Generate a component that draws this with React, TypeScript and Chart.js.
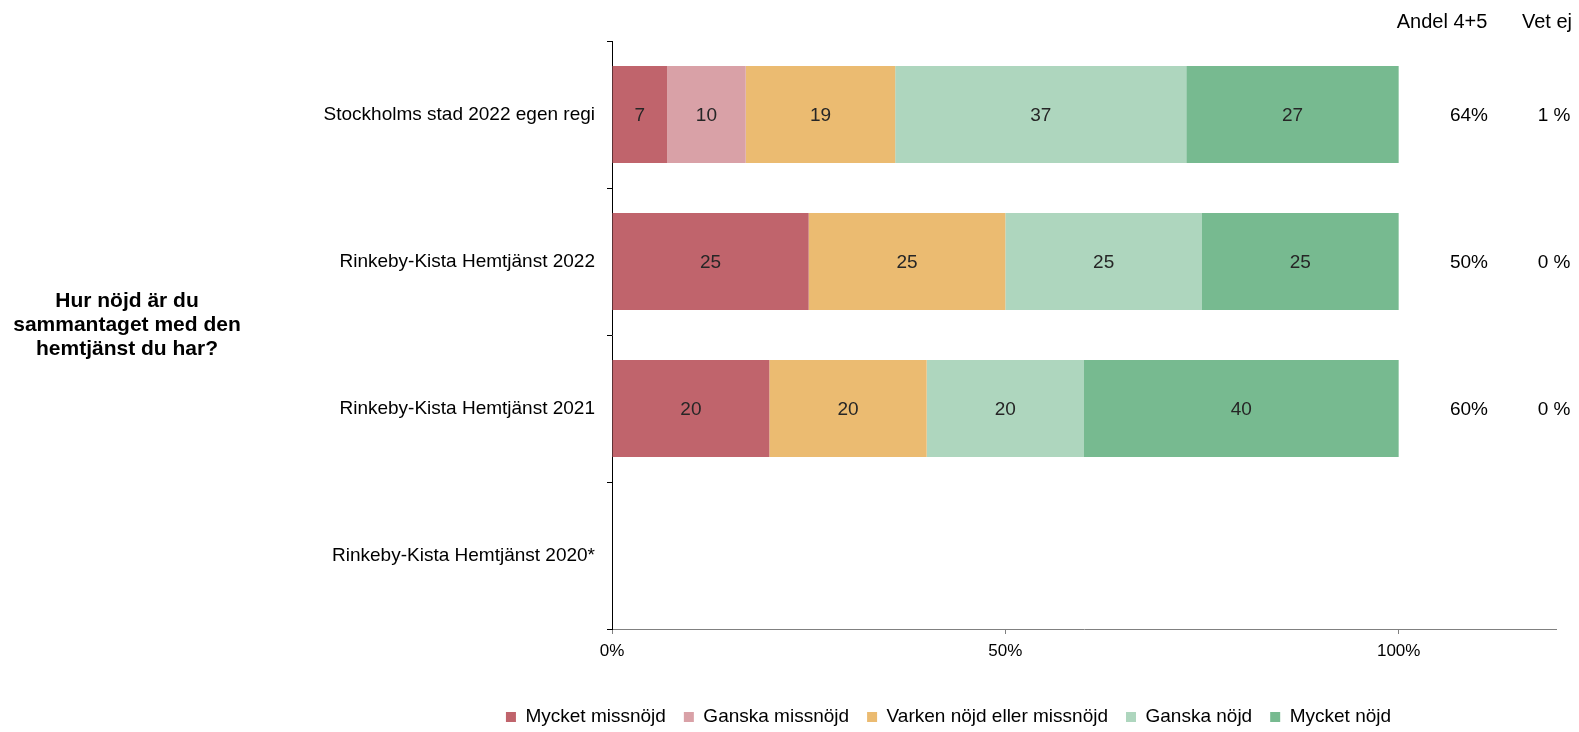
import React, { useEffect, useRef } from "react";
import { Chart, registerables } from "chart.js";

Chart.register(...registerables);

const categories = [
  "Stockholms stad 2022 egen regi",
  "Rinkeby-Kista Hemtjänst 2022",
  "Rinkeby-Kista Hemtjänst 2021",
  "Rinkeby-Kista Hemtjänst 2020*",
];
const seriesNames = [
  "Mycket missnöjd",
  "Ganska missnöjd",
  "Varken nöjd eller missnöjd",
  "Ganska nöjd",
  "Mycket nöjd",
];
const mycketMissnojd = [7, 25, 20, null];
const ganskaMissnojd = [10, 0, 0, null];
const varkenNojd = [19, 25, 20, null];
const ganskaNojd = [37, 25, 20, null];
const mycketNojd = [27, 25, 40, null];
const seriesColors = ["#C0646C", "#D9A1A7", "#EBBB71", "#AED6BE", "#77BA90"];

const andelHeader = "Andel 4+5";
const andel45 = ["64%", "50%", "60%", ""];
const vetEjHeader = "Vet ej";
const vetEj = ["1 %", "0 %", "0 %", ""];
const xTicks = [0, 50, 100];
const xMax = 120;
const questionLines = ["Hur nöjd är du", "sammantaget med den", "hemtjänst du har?"];

const FONT = "'Liberation Sans', Arial, sans-serif";

export default function App() {
  const ref = useRef<HTMLCanvasElement | null>(null);

  useEffect(() => {
    if (!ref.current) return;
    const seriesData = [mycketMissnojd, ganskaMissnojd, varkenNojd, ganskaNojd, mycketNojd];

    const valueLabels = {
      id: "valueLabels",
      afterDatasetsDraw(chart: any) {
        const ctx = chart.ctx;
        ctx.save();
        ctx.font = `19px ${FONT}`;
        ctx.fillStyle = "#262626";
        ctx.textAlign = "center";
        ctx.textBaseline = "middle";
        chart.data.datasets.forEach((ds: any, di: number) => {
          const meta = chart.getDatasetMeta(di);
          meta.data.forEach((el: any, i: number) => {
            const v = ds.data[i];
            if (!v) return;
            const p = el.getProps(["x", "y", "base"], true);
            ctx.fillText(String(v), (p.x + p.base) / 2, p.y + 1);
          });
        });
        ctx.restore();
      },
    };

    const legendShift = {
      id: "legendShift",
      afterLayout(chart: any) {
        const lg = chart.legend;
        if (!lg) return;
        const right = lg.right;
        lg.left = 341;
        lg.width = right - 341;
        lg.right = right;
      },
    };

    const sideTexts = {
      id: "sideTexts",
      afterDraw(chart: any) {
        const ctx = chart.ctx;
        const y = chart.scales.y;
        ctx.save();
        ctx.fillStyle = "#000";
        ctx.textAlign = "center";
        ctx.textBaseline = "middle";
        ctx.font = `20px ${FONT}`;
        ctx.fillText(andelHeader, 1442, 22);
        ctx.fillText(vetEjHeader, 1547, 22);
        ctx.font = `19px ${FONT}`;
        categories.forEach((_, i) => {
          const py = y.getPixelForValue(i);
          if (andel45[i]) ctx.fillText(andel45[i], 1469, py + 1);
          if (vetEj[i]) ctx.fillText(vetEj[i], 1554, py + 1);
        });
        ctx.font = `bold 21px ${FONT}`;
        questionLines.forEach((line, i) => {
          ctx.fillText(line, 127, 301 + i * 24);
        });
        ctx.restore();
      },
    };

    const chart = new Chart(ref.current, {
      type: "bar",
      data: {
        labels: categories,
        datasets: seriesNames.map((name, i) => ({
          label: name,
          data: seriesData[i],
          backgroundColor: seriesColors[i],
          borderWidth: 0,
          barPercentage: 0.66,
          categoryPercentage: 1,
        })),
      },
      options: {
        indexAxis: "y",
        responsive: false,
        animation: false,
        layout: { padding: { top: 41, left: 0, right: 23, bottom: 0 } },
        plugins: {
          tooltip: { enabled: false },
          legend: {
            position: "bottom",
            maxHeight: 42.5,
            labels: {
              boxWidth: 10,
              boxHeight: 10,
              padding: 18,
              color: "#000",
              font: { size: 19, family: FONT },
            },
          },
        },
        scales: {
          x: {
            type: "linear",
            stacked: true,
            min: 0,
            max: xMax,
            afterBuildTicks: (s: any) => {
              s.ticks = xTicks.map((v) => ({ value: v }));
            },
            afterFit: (s: any) => {
              s.height = 60.5;
            },
            ticks: {
              callback: (v: any) => `${v}%`,
              color: "#000",
              font: { size: 17, family: FONT },
              padding: 7,
              maxRotation: 0,
              autoSkip: false,
            },
            grid: { drawOnChartArea: false, color: "#808080", tickLength: 5 },
            border: { color: "#808080", width: 1 },
          },
          y: {
            type: "category",
            stacked: true,
            offset: true,
            afterFit: (s: any) => {
              s.width = 612;
            },
            ticks: {
              color: "#000",
              font: { size: 19, family: FONT },
              padding: 12,
            },
            grid: { drawOnChartArea: false, offset: true, color: "#000", tickLength: 5 },
            border: { color: "#000", width: 1 },
          },
        },
      },
      plugins: [valueLabels, legendShift, sideTexts],
    } as any);
    return () => chart.destroy();
  }, []);

  return (
    <div style={{ position: "fixed", left: 0, top: 0, width: 1579, height: 732, background: "#fff" }}>
      <canvas ref={ref} width={1579} height={732} style={{ width: 1579, height: 732, display: "block" }} />
    </div>
  );
}
